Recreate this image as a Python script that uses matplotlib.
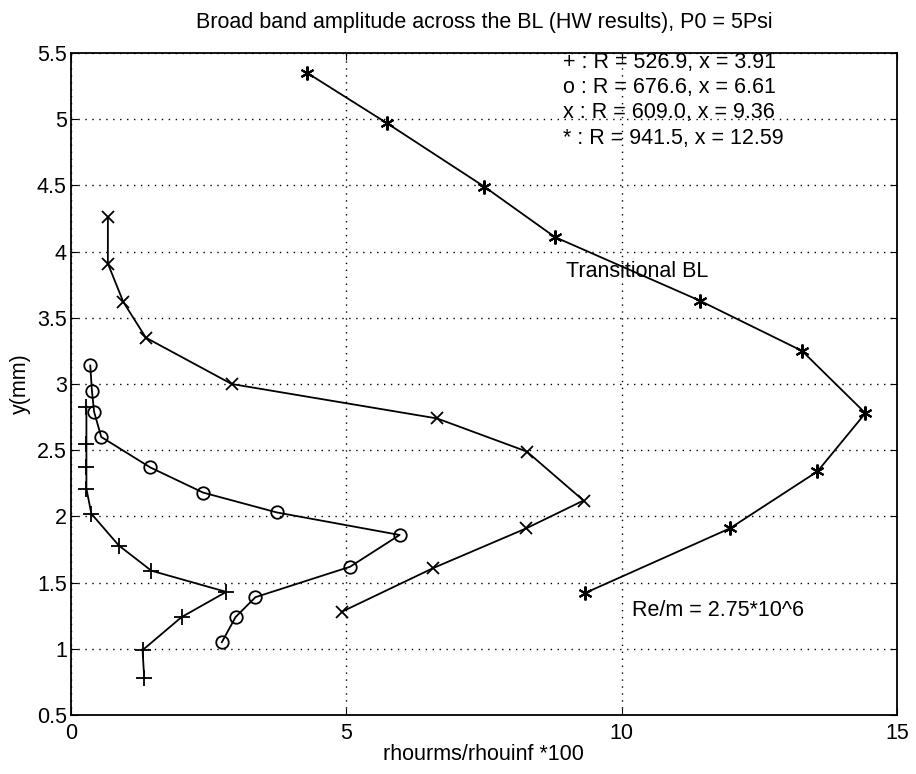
import matplotlib
matplotlib.use("Agg")
import matplotlib.pyplot as plt

plt.rcParams['font.family'] = ['Liberation Sans', 'DejaVu Sans']

# Series: R = 526.9 (+)
plus_x = [0.28, 0.28, 0.28, 0.28, 0.37, 0.87, 1.46, 2.82, 2.01, 1.30, 1.33]
plus_y = [2.83, 2.55, 2.37, 2.21, 2.02, 1.78, 1.59, 1.43, 1.24, 0.99, 0.78]

# Series: R = 676.6 (o)
circ_x = [0.35, 0.38, 0.42, 0.55, 1.44, 2.40, 3.74, 5.97, 5.07, 3.35, 2.99, 2.74]
circ_y = [3.14, 2.95, 2.79, 2.60, 2.37, 2.18, 2.03, 1.86, 1.62, 1.39, 1.24, 1.05]

# Series: R = 809.0 (x)
cross_x = [0.67, 0.67, 0.95, 1.36, 2.92, 6.65, 8.28, 9.31, 8.27, 6.58, 4.92]
cross_y = [4.26, 3.91, 3.62, 3.35, 3.00, 2.74, 2.49, 2.12, 1.91, 1.61, 1.28]

# Series: R = 941.5 (*)
star_x = [4.29, 5.74, 7.51, 8.79, 11.42, 13.28, 14.43, 13.56, 11.97, 9.33]
star_y = [5.35, 4.97, 4.49, 4.11, 3.63, 3.25, 2.78, 2.34, 1.91, 1.42]

legend_lines = ["+ : R = 526.9, x = 3.91",
                "o : R = 676.6, x = 6.61",
                "x : R = 609.0, x = 9.36",
                "* : R = 941.5, x = 12.59"]

xticks = [0, 5, 10, 15]
yticks = [0.5, 1, 1.5, 2, 2.5, 3, 3.5, 4, 4.5, 5, 5.5]
ytick_labels = ["0.5", "1", "1.5", "2", "2.5", "3", "3.5", "4", "4.5", "5", "5.5"]

fig = plt.figure(figsize=(9.16, 7.74), dpi=100)
ax = fig.add_axes([0.0775, 0.0762, 0.979 - 0.0775, 0.9315 - 0.0762])

lw = 1.3
ax.plot(plus_x, plus_y, color='black', lw=lw, marker='+', ms=11, mew=1.3)
ax.plot(circ_x, circ_y, color='black', lw=lw, marker='o', ms=9, mfc='none', mew=1.3)
ax.plot(cross_x, cross_y, color='black', lw=lw, marker='x', ms=9, mew=1.3)
ax.plot(star_x, star_y, color='black', lw=lw, marker=(6, 2, 0), ms=10, mew=1.5)

ax.set_xlim(0, 15)
ax.set_ylim(0.5, 5.5)
ax.set_xticks(xticks)
ax.set_yticks(yticks)
ax.set_yticklabels(ytick_labels)
ax.grid(True, color='black', linestyle=(0, (1, 4)), linewidth=1.0)
ax.tick_params(direction='in', top=True, right=True, labelsize=15.5, length=5)
ax.tick_params(axis='x', pad=6)
ax.tick_params(axis='y', pad=3)
for s in ax.spines.values():
    s.set_linewidth(1.3)

ax.set_title("Broad band amplitude across the BL (HW results), P0 = 5Psi", fontsize=15.5, pad=18)
ax.set_xlabel("rhourms/rhouinf *100", fontsize=15.5, labelpad=0)
ax.set_ylabel("y(mm)", fontsize=15.5, labelpad=4)

for i, line in enumerate(legend_lines):
    ax.text(8.93, 5.43 - 0.191 * i, line, fontsize=15.5, va='center', ha='left')

ax.text(9.0, 3.85, "Transitional BL", fontsize=15.5, va='center', ha='left')
ax.text(10.19, 1.29, "Re/m = 2.75*10^6", fontsize=15.5, va='center', ha='left')

fig.savefig("out.png", dpi=100)
